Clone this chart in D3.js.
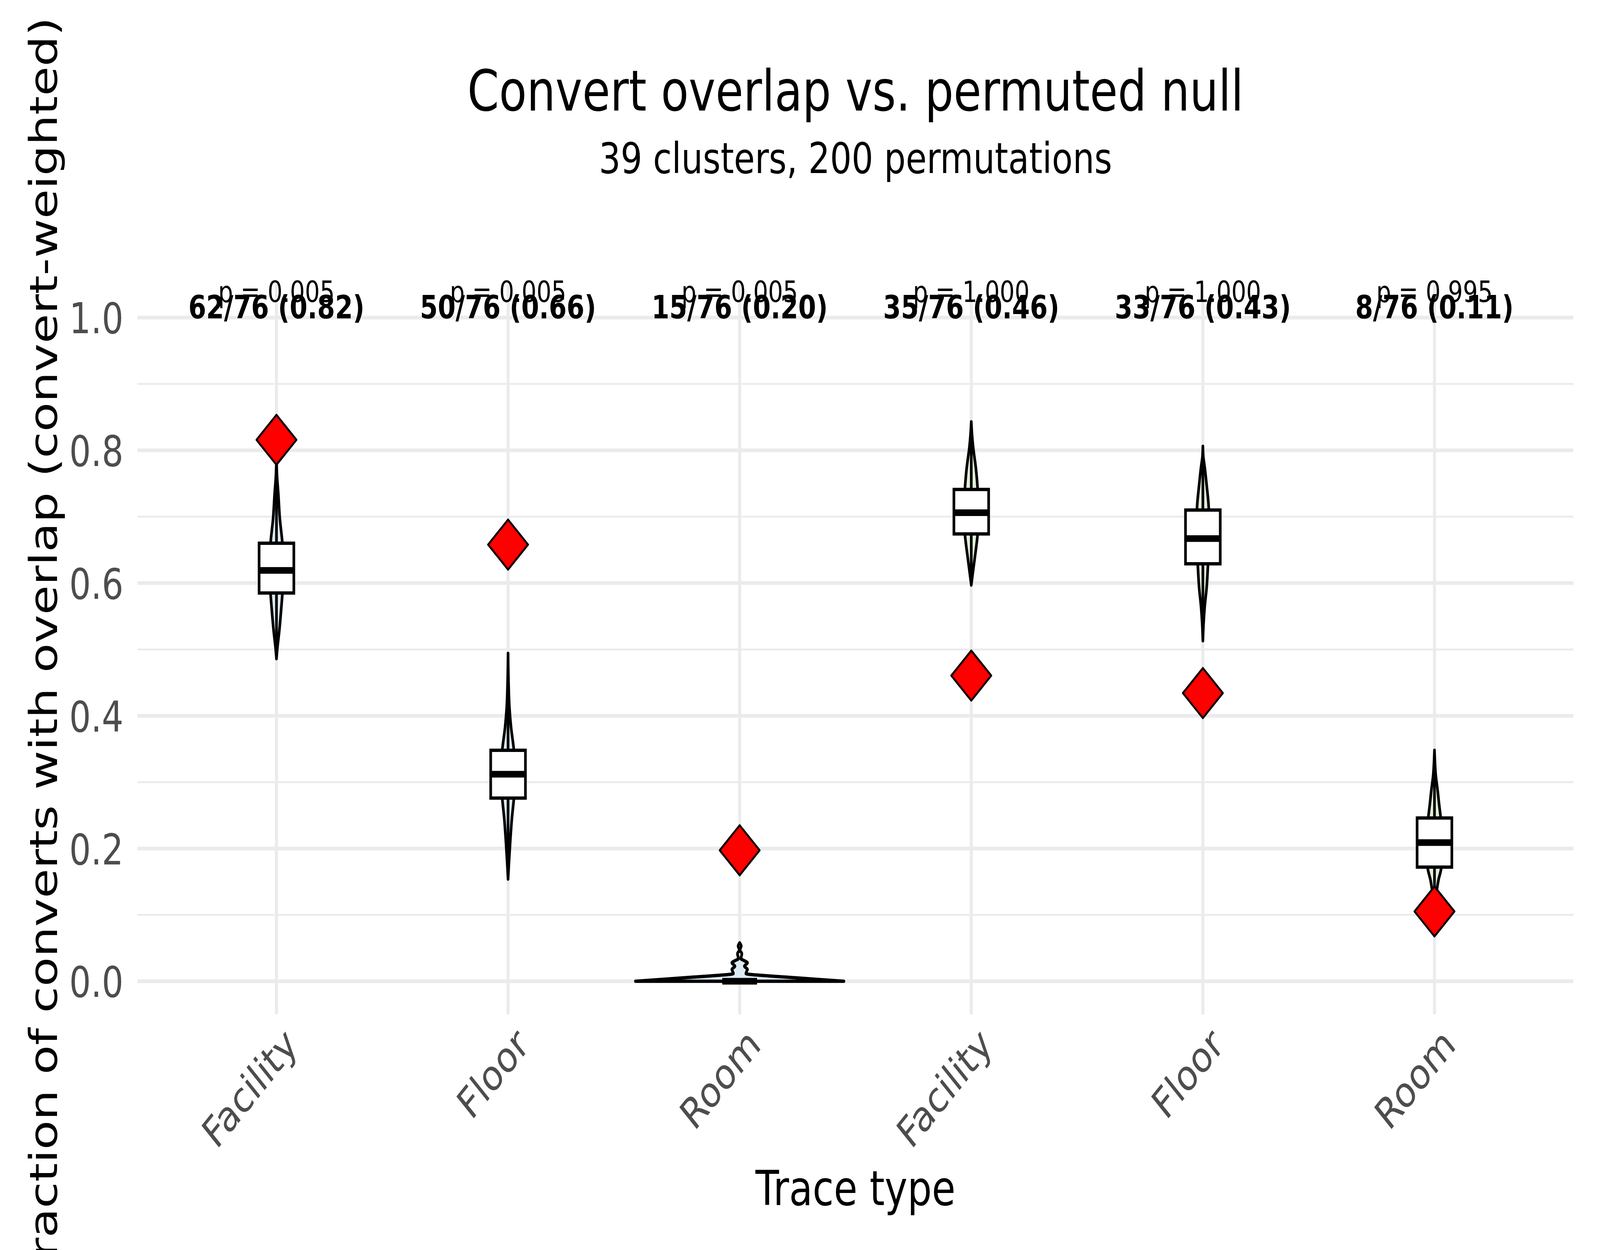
<!DOCTYPE html>
<html><head><meta charset="utf-8">
<script src="https://cdn.jsdelivr.net/npm/d3@7"></script>
<style>
html,body{margin:0;padding:0;background:#fff;width:100%;height:100%;overflow:hidden;}
svg{display:block;font-family:"DejaVu Sans",sans-serif;width:100vw;height:100vh;}
</style>
</head><body>
<svg id="chart" viewBox="0 0 5120 3200" preserveAspectRatio="none"></svg>
<script>
// ---------------- data ----------------
const categories = ["Facility", "Floor", "Room", "Facility", "Floor", "Room"];
const traceGroup = ["A", "A", "A", "B", "B", "B"];
const overlapCounts = [62, 50, 15, 35, 33, 8];
const totalConverts = 76;
const pValues = ["0.005", "0.005", "0.005", "1.000", "1.000", "0.995"];
const yTicks = [0, 0.2, 0.4, 0.6, 0.8, 1.0];
const yMinorTicks = [0.1, 0.3, 0.5, 0.7, 0.9];

// null distribution box statistics
const boxQ1 = [0.585, 0.276, 0, 0.674, 0.629, 0.172];
const boxMedian = [0.619, 0.312, 0, 0.706, 0.667, 0.209];
const boxQ3 = [0.660, 0.348, 0, 0.741, 0.710, 0.246];
const whiskerLow = [0.487, 0.170, 0, 0.600, 0.515, 0.125];
const whiskerHigh = [0.780, 0.460, 0, 0.830, 0.800, 0.340];

// violin outlines: [value, relative density width]
const violinFacilityA = [[0.486,0],[0.50,0.0075],[0.53,0.0285],[0.56,0.045],[0.584,0.057],[0.62,0.069],[0.66,0.057],[0.698,0.032],[0.734,0.018],[0.764,0.0045],[0.79,0]];
const violinFloorA = [[0.154,0],[0.177,0.008],[0.207,0.0195],[0.244,0.036],[0.276,0.056],[0.312,0.066],[0.348,0.056],[0.383,0.0285],[0.413,0.013],[0.451,0.0045],[0.494,0]];
const violinRoomA = [[0,1],[0.002,0.826],[0.004,0.646],[0.006,0.465],[0.008,0.285],[0.010,0.12],[0.0115,0.06],[0.0145,0.066],[0.0178,0.075],[0.0228,0.045],[0.0277,0.075],[0.031,0.045],[0.034,0.012],[0.0414,0.021],[0.0473,0.003],[0.053,0.015],[0.058,0]];
const violinFacilityB = [[0.597,0],[0.61,0.0105],[0.637,0.033],[0.674,0.0615],[0.706,0.072],[0.741,0.0615],[0.772,0.045],[0.805,0.018],[0.822,0.008],[0.843,0]];
const violinFloorB = [[0.513,0],[0.537,0.006],[0.565,0.018],[0.593,0.036],[0.629,0.0495],[0.667,0.06],[0.71,0.057],[0.748,0.036],[0.776,0.0165],[0.79,0.0045],[0.806,0]];
const violinRoomB = [[0.115,0],[0.13,0.015],[0.153,0.039],[0.172,0.066],[0.209,0.072],[0.246,0.06],[0.266,0.045],[0.288,0.03],[0.311,0.012],[0.33,0.0045],[0.348,0]];
const violins = [violinFacilityA, violinFloorA, violinRoomA, violinFacilityB, violinFloorB, violinRoomB];

const groupFill = {A: "#DCEAF3", B: "#E1F0D7"};

// ---------------- layout ----------------
const svg = d3.select("#chart");
const panel = {left: 440, right: 5035, top: 728, bottom: 2597};
const idx = d3.range(categories.length);

const x = d3.scalePoint().domain(idx).range([panel.left, panel.right]).padding(0.6);
const y = d3.scaleLinear().domain([-0.05, 1.05]).range([panel.bottom, panel.top]);
const step = x.step();
const w = d3.scaleLinear().domain([0, 1]).range([0, 0.45 * step]);
const boxHalf = 0.075 * step;
const LW = 8.5;

// white background
svg.append("rect").attr("width", 5120).attr("height", 3200).attr("fill", "#fff");

// gridlines
const grid = svg.append("g");
grid.selectAll("line.minor").data(yMinorTicks).join("line")
  .attr("x1", panel.left).attr("x2", panel.right)
  .attr("y1", d => y(d)).attr("y2", d => y(d))
  .attr("stroke", "#EBEBEB").attr("stroke-width", 4.75);
grid.selectAll("line.majy").data(yTicks).join("line")
  .attr("x1", panel.left).attr("x2", panel.right)
  .attr("y1", d => y(d)).attr("y2", d => y(d))
  .attr("stroke", "#EBEBEB").attr("stroke-width", 9.5);
grid.selectAll("line.majx").data(idx).join("line")
  .attr("x1", d => x(d)).attr("x2", d => x(d))
  .attr("y1", panel.top).attr("y2", panel.bottom)
  .attr("stroke", "#EBEBEB").attr("stroke-width", 9.5);

// violins
const vg = svg.append("g");
idx.forEach(i => {
  const cx = x(i);
  const area = d3.area()
    .curve(d3.curveMonotoneY)
    .y(d => y(d[0]))
    .x0(d => cx - w(d[1]))
    .x1(d => cx + w(d[1]));
  vg.append("path")
    .attr("d", area(violins[i]))
    .attr("fill", groupFill[traceGroup[i]])
    .attr("stroke", "#000").attr("stroke-width", LW)
    .attr("stroke-linejoin", "round");
});

// boxplots
const bg = svg.append("g");
idx.forEach(i => {
  const cx = x(i);
  if (whiskerHigh[i] > boxQ3[i]) {
    bg.append("line").attr("x1", cx).attr("x2", cx)
      .attr("y1", y(boxQ3[i])).attr("y2", y(whiskerHigh[i]))
      .attr("stroke", "#000").attr("stroke-width", LW);
  }
  if (whiskerLow[i] < boxQ1[i]) {
    bg.append("line").attr("x1", cx).attr("x2", cx)
      .attr("y1", y(boxQ1[i])).attr("y2", y(whiskerLow[i]))
      .attr("stroke", "#000").attr("stroke-width", LW);
  }
  bg.append("rect")
    .attr("x", cx - boxHalf).attr("width", 2 * boxHalf)
    .attr("y", y(boxQ3[i])).attr("height", y(boxQ1[i]) - y(boxQ3[i]))
    .attr("fill", "#fff").attr("stroke", "#000").attr("stroke-width", LW);
  bg.append("line")
    .attr("x1", cx - boxHalf).attr("x2", cx + boxHalf)
    .attr("y1", y(boxMedian[i])).attr("y2", y(boxMedian[i]))
    .attr("stroke", "#000").attr("stroke-width", 2 * LW);
});

// observed diamonds
svg.append("g").selectAll("path").data(idx).join("path")
  .attr("d", d3.symbol(d3.symbolSquare, 8200)())
  .attr("transform", i => `translate(${x(i)},${y(overlapCounts[i] / totalConverts)}) rotate(45)`)
  .attr("fill", "#FF0000").attr("stroke", "#000").attr("stroke-width", 5.5)
  .attr("stroke-linejoin", "round");

// annotations
const ag = svg.append("g").attr("text-anchor", "middle").attr("fill", "#000");
ag.selectAll("text.p").data(idx).join("text")
  .attr("x", i => x(i)).attr("y", y(1.0235))
  .attr("font-size", 75)
  .text(i => `p = ${pValues[i]}`);
ag.selectAll("text.c").data(idx).join("text")
  .attr("x", i => x(i)).attr("y", y(0.9988))
  .attr("font-size", 82).attr("font-weight", "bold")
  .text(i => `${overlapCounts[i]}/${totalConverts} (${(overlapCounts[i] / totalConverts).toFixed(2)})`);

// y axis
const yAxis = svg.append("g").attr("transform", `translate(${panel.left},0)`)
  .call(d3.axisLeft(y).tickValues(yTicks).tickFormat(d3.format(".1f")).tickSize(0).tickPadding(45));
yAxis.select(".domain").remove();
yAxis.selectAll("text")
  .attr("font-size", 109).attr("fill", "#4D4D4D")
  .attr("font-family", "DejaVu Sans").attr("dy", "0.365em");

// x axis
const xAxis = svg.append("g").attr("transform", `translate(0,${panel.bottom})`)
  .call(d3.axisBottom(x).tickFormat(i => categories[i]).tickSize(0));
xAxis.select(".domain").remove();
xAxis.selectAll("text")
  .attr("font-size", 108).attr("fill", "#4D4D4D")
  .attr("font-family", "DejaVu Sans")
  .attr("text-anchor", "end")
  .attr("x", 0).attr("y", 0).attr("dy", "0.75em")
  .attr("transform", "translate(15,26) rotate(-45)");

// titles
const cxPanel = (panel.left + panel.right) / 2;
svg.append("text").attr("x", cxPanel).attr("y", 283)
  .attr("text-anchor", "middle").attr("font-size", 145).attr("fill", "#000")
  .text("Convert overlap vs. permuted null");
svg.append("text").attr("x", cxPanel).attr("y", 443)
  .attr("text-anchor", "middle").attr("font-size", 109).attr("fill", "#000")
  .text("39 clusters, 200 permutations");
svg.append("text").attr("x", cxPanel).attr("y", 3085)
  .attr("text-anchor", "middle").attr("font-size", 123).attr("fill", "#000")
  .text("Trace type");
svg.append("text")
  .attr("transform", `translate(182,${(panel.top + panel.bottom) / 2}) rotate(-90)`)
  .attr("text-anchor", "middle").attr("font-size", 123).attr("fill", "#000")
  .text("Fraction of converts with overlap (convert-weighted)");
</script>
</body></html>
